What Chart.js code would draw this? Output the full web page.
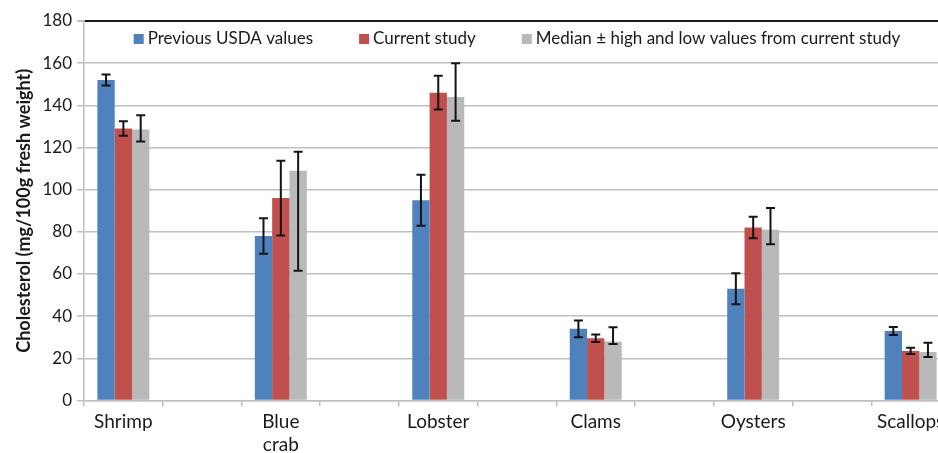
<!DOCTYPE html>
<html>
<head>
<meta charset="utf-8">
<script src="https://cdn.jsdelivr.net/npm/chart.js@4"></script>
<style>
  html, body { margin: 0; padding: 0; background: #fff; overflow: hidden; }
  #wrap { width: 938px; height: 453px; overflow: hidden; position: relative; }
  canvas { display: block; }
</style>
</head>
<body>
<div id="wrap"><canvas id="c" width="960" height="453"></canvas></div>
<script>
// Seafood types
const categories = ['Shrimp', ['Blue', 'crab'], 'Lobster', 'Clams', 'Oysters', 'Scallops'];

// Previous USDA values (mean ± error)
const usdaValues = [152, 78, 95, 34, 53, 33];
const usdaError  = [2.6, 8.4, 12.1, 4.0, 7.4, 1.9];

// Current study (mean ± error)
const currentValues = [129, 96, 146, 29.5, 82, 23.5];
const currentError  = [3.4, 17.7, 8.0, 1.8, 5.1, 1.5];

// Median with high and low values from current study
const medianValues = [128.5, 109, 144, 28, 81, 23];
const medianHigh   = [135.3, 118, 160, 34.7, 91.3, 27.4];
const medianLow    = [122.8, 61.6, 132.7, 26.8, 74.1, 20.6];

const seriesLabels = [
  'Previous USDA values',
  'Current study',
  'Median \u00b1 high and low values from current study'
];

const yTicks = { min: 0, max: 180, step: 20 };
const yTitle = 'Cholesterol (mg/100g fresh weight)';

// Each category is followed by an empty slot on the axis
const spread = arr => {
  const out = [];
  arr.forEach((v, i) => { out.push(v); if (i < arr.length - 1) out.push(null); });
  return out;
};
const slotLabels = spread(categories).map(l => l === null ? '' : l);

const plus  = (v, e) => v.map((x, i) => x + e[i]);
const minus = (v, e) => v.map((x, i) => x - e[i]);

const FONT = 'Lato';
const TEXT = '#1a1a1a';
const GRID = '#bfbfbf';

const errorBars = {
  id: 'errorBars',
  afterDatasetsDraw(chart) {
    const { ctx, scales: { y } } = chart;
    ctx.save();
    ctx.strokeStyle = '#141414';
    ctx.lineWidth = 2;
    chart.data.datasets.forEach((ds, i) => {
      const meta = chart.getDatasetMeta(i);
      meta.data.forEach((bar, j) => {
        const hi = ds.errHigh[j], lo = ds.errLow[j];
        if (hi == null || lo == null) return;
        const x = bar.x;
        const yh = y.getPixelForValue(hi);
        const yl = y.getPixelForValue(lo);
        ctx.beginPath();
        ctx.moveTo(x, yh); ctx.lineTo(x, yl);
        ctx.moveTo(x - 4.5, yh); ctx.lineTo(x + 4.5, yh);
        ctx.moveTo(x - 4.5, yl); ctx.lineTo(x + 4.5, yl);
        ctx.stroke();
      });
    });
    ctx.restore();
  }
};

// Legend drawn in a single row inside the top of the plot
const innerLegend = {
  id: 'innerLegend',
  afterDraw(chart) {
    const { ctx, chartArea } = chart;
    ctx.save();
    ctx.font = '17px ' + FONT;
    const box = 10, gapText = 4, gapItem = 46;
    const items = chart.data.datasets.map(ds => ({
      label: ds.label, color: ds.backgroundColor, w: ctx.measureText(ds.label).width
    }));
    const total = items.reduce((s, it) => s + box + gapText + it.w, 0) + gapItem * (items.length - 1);
    let x = (chartArea.left + chartArea.right) / 2 - total / 2;
    const yc = chartArea.top + 18;
    ctx.textBaseline = 'middle';
    ctx.textAlign = 'left';
    items.forEach(it => {
      ctx.fillStyle = it.color;
      ctx.fillRect(x, yc - box / 2, box, box);
      ctx.fillStyle = TEXT;
      ctx.fillText(it.label, x + box + gapText, yc);
      x += box + gapText + it.w + gapItem;
    });
    ctx.restore();
  }
};

new Chart(document.getElementById('c'), {
  type: 'bar',
  data: {
    labels: slotLabels,
    datasets: [
      {
        label: seriesLabels[0],
        data: spread(usdaValues),
        errHigh: spread(plus(usdaValues, usdaError)),
        errLow: spread(minus(usdaValues, usdaError)),
        backgroundColor: '#4F81BD'
      },
      {
        label: seriesLabels[1],
        data: spread(currentValues),
        errHigh: spread(plus(currentValues, currentError)),
        errLow: spread(minus(currentValues, currentError)),
        backgroundColor: '#C0504D'
      },
      {
        label: seriesLabels[2],
        data: spread(medianValues),
        errHigh: spread(medianHigh),
        errLow: spread(medianLow),
        backgroundColor: '#B9B9B9'
      }
    ]
  },
  options: {
    responsive: false,
    animation: false,
    devicePixelRatio: 1,
    layout: { padding: { top: 21, right: 10, bottom: 0, left: 0 } },
    datasets: { bar: { categoryPercentage: 0.66, barPercentage: 1.0, borderWidth: 0 } },
    plugins: { legend: { display: false }, tooltip: { enabled: false } },
    scales: {
      x: {
        offset: true,
        grid: { drawOnChartArea: false, drawTicks: true, tickLength: 6, color: GRID, lineWidth: 1.5, offset: true },
        border: { color: GRID, width: 1.5 },
        ticks: {
          color: TEXT, font: { family: FONT, size: 19, lineHeight: 1.2 },
          padding: 4, maxRotation: 0, autoSkip: false
        },
        afterFit(scale) { scale.height = 52.5; }
      },
      y: {
        min: yTicks.min, max: yTicks.max,
        ticks: { stepSize: yTicks.step, color: TEXT, font: { family: FONT, size: 17 }, padding: 5 },
        grid: {
          color: ctx => (ctx.tick && ctx.tick.value === yTicks.max) ? '#1a1a1a' : GRID,
          lineWidth: ctx => (ctx.tick && ctx.tick.value === yTicks.max) ? 2 : 1.5,
          tickColor: GRID, tickLength: 7
        },
        border: { color: GRID, width: 1.5 },
        title: {
          display: true, text: yTitle, color: TEXT,
          font: { family: FONT, size: 18, weight: 'bold' },
          padding: { top: 13, bottom: 0 }
        },
        afterFit(scale) { scale.width = 84; }
      }
    }
  },
  plugins: [errorBars, innerLegend]
});
</script>
</body>
</html>
